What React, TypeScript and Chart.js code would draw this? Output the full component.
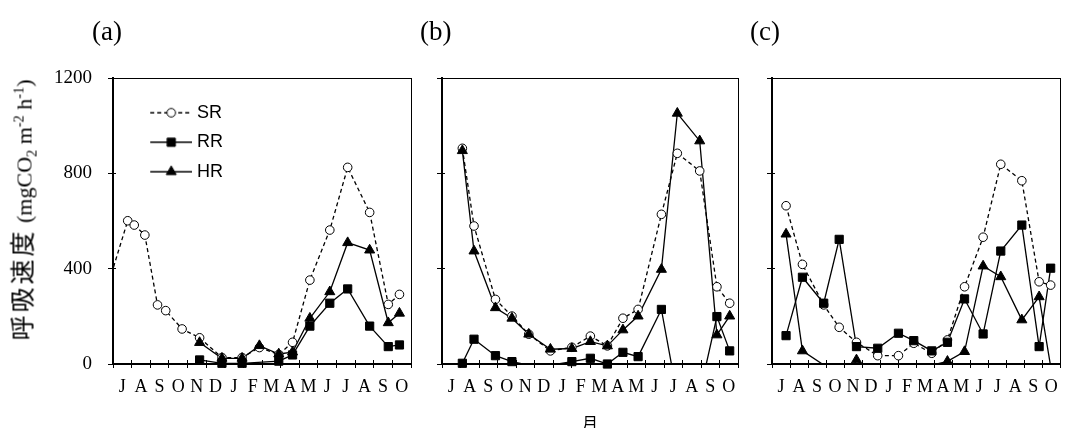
import React, { useEffect, useRef } from "react";
import { Chart, registerables } from "chart.js";
import { drawPoint } from "chart.js/helpers";

Chart.register(...registerables);

// ---------- data ----------
// month letters under the x axis (Jul of year 1 .. Oct of year 2)
const monthLabels = ["J", "A", "S", "O", "N", "D", "J", "F", "M", "A", "M", "J", "J", "A", "S", "O"];
const yTicks = [0, 400, 800, 1200];

// sampling dates, in months counted from 1 July of the first year
const datesA = [-0.3, 0.79, 1.14, 1.71, 2.39, 2.83, 3.71, 4.65, 5.85, 6.93, 7.86, 8.9, 9.64, 10.57, 11.64, 12.6, 13.78, 14.78, 15.38];
const srA = [323, 601, 583, 541, 248, 224, 147, 110, 27, 27, 69, 40, 91, 352, 562, 825, 636, 250, 292];
const rrA = [null, null, null, null, null, null, null, 17, 3, 3, null, 12, 38, 159, 255, 315, 159, 73, 80];
const hrA = [null, null, null, null, null, null, null, 90, 24, 24, 77, 42, 50, 192, 303, 509, 478, 173, 213];

const datesB = [1.1, 1.73, 2.89, 3.78, 4.69, 5.86, 7.02, 8.02, 8.94, 9.78, 10.6, 11.86, 12.72, 13.93, 14.86, 15.55];
const srB = [905, 579, 271, 201, 125, 55, 70, 117, 76, 192, 229, 628, 884, 810, 324, 255];
const rrB = [3, 104, 35, 10, -5, -5, 10, 24, 0, 49, 31, 229, -135, -123, 199, 55];
const hrB = [895, 474, 236, 192, 125, 62, 65, 94, 76, 143, 201, 397, 1052, 936, 122, 201];

const datesC = [0.78, 1.69, 2.87, 3.73, 4.69, 5.87, 7.02, 7.87, 8.87, 9.74, 10.69, 11.72, 12.7, 13.87, 14.83, 15.47];
const srC = [664, 418, 248, 154, 91, 35, 35, 87, 45, 101, 324, 532, 838, 769, 345, 331];
const rrC = [119, 364, 255, 523, 73, 66, 129, 98, 55, 91, 273, 126, 474, 583, 73, 402];
const hrC = [545, 55, -4, -120, 17, -60, -80, -60, -5, 11, 52, 411, 366, 185, 282, -10];

const seriesNames = ["SR", "RR", "HR"];

// ---------- styles ----------
const SERIF = '"Liberation Serif", "Times New Roman", serif';
const NARROW = '"Liberation Sans Narrow", "Liberation Sans", Arial, sans-serif';

const seriesStyle: Record<string, any> = {
  SR: { pointStyle: "circle", radius: 4.3, fill: "#ffffff", dash: [4, 3] },
  RR: { pointStyle: "rect", radius: 5.8, fill: "#000000", dash: [] },
  HR: { pointStyle: "triangle", radius: 5.8, fill: "#000000", dash: [] },
};

type PanelDef = {
  dates: number[];
  values: Record<string, (number | null)[]>;
  left: number;
  width: number;
  yWidth: number;
  padLeft: number;
  padRight: number;
  yLabels: boolean;
  legend: boolean;
};

const panels: PanelDef[] = [
  { dates: datesA, values: { SR: srA, RR: rrA, HR: hrA }, left: 0, width: 425, yWidth: 60, padLeft: 53, padRight: 14, yLabels: true, legend: true },
  { dates: datesB, values: { SR: srB, RR: rrB, HR: hrB }, left: 425, width: 320, yWidth: 8, padLeft: 9, padRight: 7, yLabels: false, legend: false },
  { dates: datesC, values: { SR: srC, RR: rrC, HR: hrC }, left: 745, width: 322, yWidth: 8, padLeft: 19, padRight: 1.5, yLabels: false, legend: false },
];

const innerTicks = {
  id: "innerTicks",
  afterDraw(chart: any) {
    const { ctx, chartArea, scales } = chart;
    const xs = scales.x;
    const ys = scales.y;
    const al = (p: number) => Math.round(p - 0.5) + 0.5;
    ctx.save();
    ctx.strokeStyle = "#000";
    ctx.lineWidth = 1;
    ctx.beginPath();
    for (let m = 0; m <= monthLabels.length; m++) {
      const px = al(xs.getPixelForValue(m));
      ctx.moveTo(px, chartArea.bottom);
      ctx.lineTo(px, chartArea.bottom - 4);
    }
    for (const v of yTicks) {
      const py = al(ys.getPixelForValue(v));
      ctx.moveTo(chartArea.left, py);
      ctx.lineTo(chartArea.left + 3, py);
    }
    ctx.stroke();
    ctx.restore();
  },
};

function legendIcon(name: string): HTMLCanvasElement {
  const st = seriesStyle[name];
  const c = document.createElement("canvas");
  c.width = 72;
  c.height = 16;
  const g = c.getContext("2d")!;
  g.strokeStyle = "#000";
  g.lineWidth = 1.3;
  g.setLineDash(st.dash);
  g.beginPath();
  g.moveTo(30, 8);
  g.lineTo(72, 8);
  g.stroke();
  g.setLineDash([]);
  g.fillStyle = st.fill;
  g.strokeStyle = "#000";
  g.lineWidth = 1;
  drawPoint(g, { pointStyle: st.pointStyle, radius: st.radius, borderWidth: 1, rotation: 0 } as any, 51, 8);
  return c;
}

function buildConfig(p: PanelDef): any {
  const order = ["HR", "RR", "SR"];
  const pts = (name: string) =>
    p.dates.map((x, i) => ({ x, y: p.values[name][i] })).filter((q) => q.y !== null) as { x: number; y: number }[];
  const markerSets = order.map((name) => {
    const st = seriesStyle[name];
    return {
      label: name,
      data: pts(name).filter((q) => q.y >= 0 && q.x >= 0),
      showLine: false,
      pointStyle: st.pointStyle,
      pointRadius: st.radius,
      pointHoverRadius: st.radius,
      pointBackgroundColor: st.fill,
      pointBorderColor: "#000",
      pointBorderWidth: 1,
      borderColor: "#000",
      clip: { left: 0, top: 0, right: 8, bottom: 8 },
    };
  });
  const lineSets = order.map((name) => {
    const st = seriesStyle[name];
    return {
      label: name + " line",
      data: pts(name),
      pointRadius: 0,
      pointHoverRadius: 0,
      borderColor: "#000",
      borderWidth: 1.3,
      borderDash: st.dash,
      tension: 0,
      fill: false,
      clip: { left: 0, top: 0, right: 0, bottom: 0 },
    };
  });

  const legendItems = p.legend
    ? seriesNames.map((name) => ({
        text: name,
        pointStyle: legendIcon(name),
        fillStyle: "#000",
        strokeStyle: "#000",
        lineWidth: 0,
        hidden: false,
        fontColor: "#000",
        datasetIndex: order.indexOf(name),
      }))
    : [];

  return {
    type: "line",
    data: { datasets: [...markerSets, ...lineSets] },
    options: {
      animation: false,
      responsive: false,
      events: [],
      layout: { padding: { left: p.padLeft, right: p.padRight, top: 78, bottom: 34 } },
      plugins: {
        tooltip: { enabled: false },
        title: { display: false },
        legend: {
          display: p.legend,
          position: "chartArea",
          align: "start",
          title: { display: true, text: " ", font: { size: 10 }, padding: { top: 80.2, bottom: 0 } },
          labels: {
            usePointStyle: true,
            pointStyleWidth: 63.5,
            padding: 11.5,
            color: "#000",
            font: { family: NARROW, size: 18 },
            generateLabels: () => legendItems,
          },
        },
      },
      scales: {
        x: {
          type: "linear",
          position: "bottom",
          min: 0,
          max: monthLabels.length,
          afterBuildTicks: (s: any) => {
            s.ticks = monthLabels.map((_, i) => ({ value: i + 0.5 }));
          },
          afterFit: (s: any) => {
            s.height = 30;
          },
          ticks: {
            autoSkip: false,
            maxRotation: 0,
            padding: 8,
            color: "#000",
            font: { family: SERIF, size: 18 },
            callback: (_v: any, i: number) => monthLabels[i],
          },
          grid: { offset: true, drawOnChartArea: false, tickLength: 4, color: "#000", lineWidth: 1 },
          border: { color: "#000", width: 2 },
        },
        y: {
          type: "linear",
          position: "left",
          min: 0,
          max: 1200,
          afterBuildTicks: (s: any) => {
            s.ticks = yTicks.map((v) => ({ value: v }));
          },
          afterFit: (s: any) => {
            s.width = p.yWidth;
          },
          ticks: {
            display: p.yLabels,
            padding: 16,
            color: "#000",
            font: { family: SERIF, size: 19 },
            callback: (v: any) => String(v),
          },
          grid: { drawOnChartArea: false, tickLength: 5, color: "#000", lineWidth: 1 },
          border: { color: "#000", width: 2 },
        },
        xTop: {
          type: "linear",
          position: "top",
          min: 0,
          max: monthLabels.length,
          ticks: { display: false },
          grid: { display: false, drawTicks: false },
          border: { color: "#000", width: 1 },
          afterFit: (s: any) => {
            s.height = 0;
          },
        },
        yRight: {
          type: "linear",
          position: "right",
          min: 0,
          max: 1200,
          ticks: { display: false },
          grid: { display: false, drawTicks: false },
          border: { color: "#000", width: 1 },
          afterFit: (s: any) => {
            s.width = 0;
          },
        },
      },
    },
    plugins: [innerTicks],
  };
}

function Panel({ def }: { def: PanelDef }) {
  const ref = useRef<HTMLCanvasElement | null>(null);
  useEffect(() => {
    if (!ref.current) return;
    const chart = new Chart(ref.current, buildConfig(def));
    return () => chart.destroy();
  }, [def]);
  return (
    <canvas
      ref={ref}
      width={def.width}
      height={428}
      style={{ position: "absolute", left: def.left, top: 0, width: def.width, height: 428 }}
    />
  );
}

const panelTitles = ["(a)", "(b)", "(c)"];
const panelTitleX = [92, 420, 750];

export default function App() {
  return (
    <div style={{ position: "absolute", left: 0, top: 0, width: 1067, height: 428, background: "#fff", overflow: "hidden" }}>
      {panels.map((p, i) => (
        <Panel key={i} def={p} />
      ))}
      {panelTitles.map((t, i) => (
        <div
          key={t}
          style={{
            position: "absolute",
            left: panelTitleX[i],
            top: 31,
            transform: "translateY(-50%)",
            fontFamily: SERIF,
            fontSize: 27,
            lineHeight: 1,
            color: "#000",
          }}
        >
          {t}
        </div>
      ))}
      <div
        style={{
          position: "absolute",
          left: 22,
          top: 210,
          transform: "translate(-50%, -50%) rotate(-90deg)",
          whiteSpace: "nowrap",
          fontFamily: SERIF,
          fontSize: 22,
          lineHeight: 1,
          color: "#000",
        }}
      >
        <span style={{ fontFamily: '"Noto Sans CJK JP", sans-serif', fontSize: 25, letterSpacing: 3 }}>呼吸速度</span>
        {" (mgCO"}
        <sub style={{ fontSize: "0.65em", lineHeight: 0 }}>2</sub>
        {" m"}
        <sup style={{ fontSize: "0.65em", lineHeight: 0 }}>-2</sup>
        {" h"}
        <sup style={{ fontSize: "0.65em", lineHeight: 0 }}>-1</sup>
        {")"}
      </div>
      <div
        style={{
          position: "absolute",
          left: 590,
          top: 422,
          transform: "translate(-50%, -50%)",
          fontFamily: '"Noto Sans CJK JP", sans-serif',
          fontSize: 16,
          lineHeight: 1,
          color: "#000",
        }}
      >
        月
      </div>
    </div>
  );
}
